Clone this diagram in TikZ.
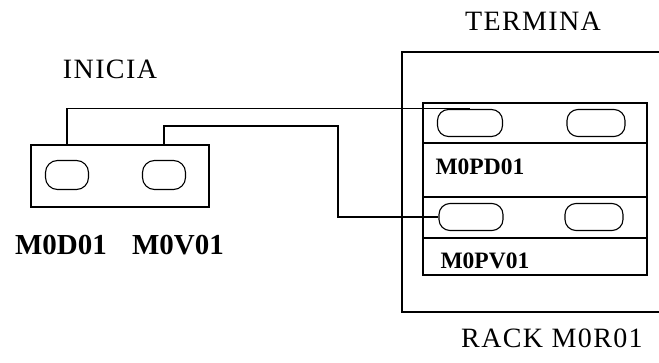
\documentclass[tikz,border=0pt]{standalone}
\usepackage{fontspec}
\setmainfont{Liberation Serif}
\usepackage{tikz}

\begin{document}
\begin{tikzpicture}[x=1pt,y=-1pt,line width=1.1pt,
  hole/.style={draw,rounded corners=11pt,minimum width=62pt,minimum height=27pt,inner sep=0pt},
  title/.style={font=\fontsize{28}{32}\selectfont\addfontfeature{LetterSpace=5},inner sep=0pt},
  tag/.style={font=\fontsize{29}{32}\selectfont\bfseries,inner sep=0pt},
  slot/.style={font=\fontsize{23.5}{27}\selectfont\bfseries,anchor=west,inner sep=0pt}]
\useasboundingbox (0,0) rectangle (659,363);
% left module
\node[draw,minimum width=178pt,minimum height=62pt,inner sep=0pt] (modbox) at (120,176) {};
\node[hole,minimum width=43pt,minimum height=29pt,rounded corners=12pt] (d1) at (67,175) {};
\node[hole,minimum width=43pt,minimum height=29pt,rounded corners=12pt] (v1) at (164,175) {};
\node[title] (inicia) at (110,69) {INICIA};
\node[tag] (m0d01) at (61,245) {M0D01};
\node[tag] (m0v01) at (178,245) {M0V01};
% rack
\draw (660,52) -- (402,52) -- (402,312) -- (660,312);
\draw (423,103) rectangle (647,275);
\draw (423,143) -- (647,143);
\draw (423,197) -- (647,197);
\draw (423,238) -- (647,238);
\node[hole,minimum width=65pt] (pd1) at (470,123) {};
\node[hole,minimum width=58pt] (pd2) at (596,123) {};
\node[hole,minimum width=64pt] (pv1) at (471,217) {};
\node[hole,minimum width=58pt] (pv2) at (594,217) {};
\node[slot] (m0pd01) at (435,167) {M0PD01};
\node[slot] (m0pv01) at (440,261) {M0PV01};
\node[title] (termina) at (533,21) {TERMINA};
\node[title] (rack) at (552,338) {RACK M0R01};
% wires
\coordinate (bend) at (338,126);
\draw (d1 |- modbox.north) |- (pd1.north);
\draw (v1 |- modbox.north) |- (bend) |- (pv1.west);
\end{tikzpicture}
\end{document}
